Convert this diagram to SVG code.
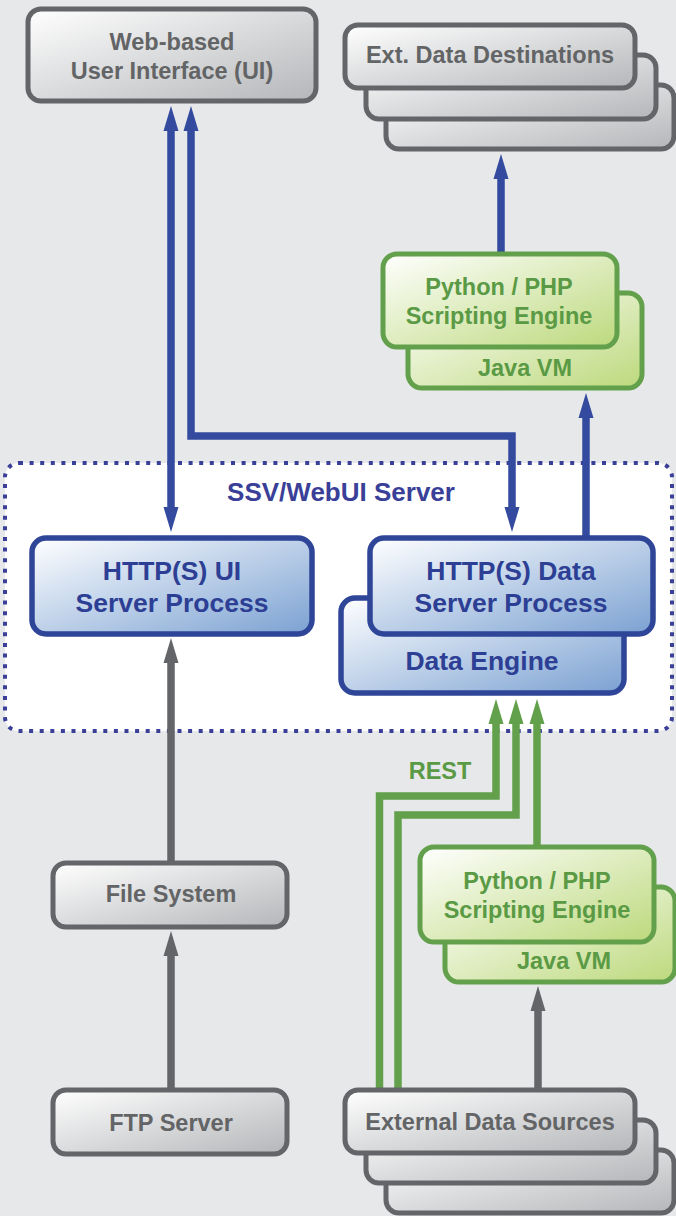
<svg xmlns="http://www.w3.org/2000/svg" width="676" height="1216" viewBox="0 0 676 1216">
<style>
text{font-family:"Liberation Sans",Arial,sans-serif;font-weight:bold;text-anchor:middle}
.g{fill:url(#gg);stroke:#636568;stroke-width:5}
.b{fill:url(#gb);stroke:#2e4598;stroke-width:5.5}
.n{fill:url(#gn);stroke:#62a04b;stroke-width:5}
.tg{fill:#626466;font-size:23.5px}
.tb{fill:#2d3f94;font-size:26.5px}
.tn{fill:#5a9a45;font-size:23.5px}
.cb{fill:none;stroke:#334a9e;stroke-width:7.5}
.cg{fill:none;stroke:#636568;stroke-width:7.5}
.cn{fill:none;stroke:#62a04b;stroke-width:7.5}
</style>
<defs>
<linearGradient id="gg" x1="0" y1="0" x2="1" y2="1"><stop offset="0" stop-color="#ffffff"/><stop offset="1" stop-color="#b4b6b9"/></linearGradient>
<linearGradient id="gb" x1="0" y1="0" x2="1" y2="1"><stop offset="0" stop-color="#ffffff"/><stop offset="1" stop-color="#7ba1d2"/></linearGradient>
<linearGradient id="gn" x1="0" y1="0" x2="1" y2="1"><stop offset="0" stop-color="#ffffff"/><stop offset="1" stop-color="#bcd97c"/></linearGradient>
<marker id="ab" viewBox="0 -8 26 16" refX="1" refY="0" markerWidth="26" markerHeight="16" markerUnits="userSpaceOnUse" orient="auto-start-reverse"><path d="M0,-7.5 L25,0 L0,7.5z" fill="#334a9e"/></marker>
<marker id="ag" viewBox="0 -8 26 16" refX="1" refY="0" markerWidth="26" markerHeight="16" markerUnits="userSpaceOnUse" orient="auto-start-reverse"><path d="M0,-7.5 L25,0 L0,7.5z" fill="#636568"/></marker>
<marker id="an" viewBox="0 -8 26 16" refX="1" refY="0" markerWidth="26" markerHeight="16" markerUnits="userSpaceOnUse" orient="auto-start-reverse"><path d="M0,-7.5 L25,0 L0,7.5z" fill="#62a04b"/></marker>
</defs>
<rect width="676" height="1216" fill="#e7e8ea"/>
<g id="server-group">
<rect x="5" y="463" width="667" height="268" rx="14" fill="#ffffff" stroke="#3a3f98" stroke-width="4" stroke-dasharray="4 6.6"/>
<text x="341" y="501" style="fill:#3a3f98;font-size:26px">SSV/WebUI Server</text>
</g>
<g id="connectors">
<path class="cb" d="M171,130 V508" marker-start="url(#ab)" marker-end="url(#ab)"/>
<path class="cb" d="M191,130 V436 H512 V508" marker-start="url(#ab)" marker-end="url(#ab)"/>
<path class="cb" d="M586,538 V417" marker-end="url(#ab)"/>
<path class="cb" d="M501,254 V178" marker-end="url(#ab)"/>
<path class="cg" d="M171,863 V662" marker-end="url(#ag)"/>
<path class="cg" d="M171,1090 V955" marker-end="url(#ag)"/>
<path class="cg" d="M538,1090 V1010" marker-end="url(#ag)"/>
<path class="cn" d="M379.5,1090 V796 H496 V723" marker-end="url(#an)"/>
<path class="cn" d="M398,1090 V815 H516 V723" marker-end="url(#an)"/>
<path class="cn" d="M537,847 V723" marker-end="url(#an)"/>
<text x="440" y="779" style="fill:#5a9a45;font-size:23.5px">REST</text>
</g>
<g id="web-ui">
<rect class="g" x="28" y="9" width="288" height="92" rx="13"/>
<text class="tg" x="172" y="50">Web-based</text>
<text class="tg" x="172" y="79">User Interface (UI)</text>
</g>
<g id="ext-dest">
<rect class="g" x="386" y="85" width="288" height="64" rx="13"/>
<rect class="g" x="366" y="55" width="290" height="64" rx="13"/>
<rect class="g" x="345" y="25" width="290" height="63" rx="13"/>
<text class="tg" x="490" y="63">Ext. Data Destinations</text>
</g>
<g id="script-top">
<rect class="n" x="408" y="293" width="234" height="95" rx="14"/>
<rect class="n" x="383" y="254" width="234" height="93" rx="14"/>
<text class="tn" x="499" y="295">Python / PHP</text>
<text class="tn" x="499" y="324">Scripting Engine</text>
<text class="tn" x="525" y="376">Java VM</text>
</g>
<g id="ui-server">
<rect class="b" x="32" y="538" width="280" height="96" rx="14"/>
<text class="tb" x="172" y="580">HTTP(S) UI</text>
<text class="tb" x="172" y="612">Server Process</text>
</g>
<g id="data-server">
<rect class="b" x="341" y="598" width="283" height="95" rx="14"/>
<text class="tb" x="482" y="670">Data Engine</text>
<rect class="b" x="370" y="538" width="283" height="96" rx="14"/>
<text class="tb" x="511" y="580">HTTP(S) Data</text>
<text class="tb" x="511" y="612">Server Process</text>
</g>
<g id="script-bottom">
<rect class="n" x="445" y="887" width="230" height="95" rx="14"/>
<rect class="n" x="420" y="847" width="234" height="95" rx="14"/>
<text class="tn" x="537" y="889">Python / PHP</text>
<text class="tn" x="537" y="918">Scripting Engine</text>
<text class="tn" x="564" y="969">Java VM</text>
</g>
<g id="file-system">
<rect class="g" x="53" y="863" width="234" height="64" rx="13"/>
<text class="tg" x="171" y="902">File System</text>
</g>
<g id="ftp-server">
<rect class="g" x="53" y="1090" width="234" height="64" rx="13"/>
<text class="tg" x="171" y="1131">FTP Server</text>
</g>
<g id="ext-sources">
<rect class="g" x="386" y="1150" width="288" height="63" rx="13"/>
<rect class="g" x="366" y="1120" width="290" height="63" rx="13"/>
<rect class="g" x="345" y="1090" width="290" height="63" rx="13"/>
<text class="tg" x="490" y="1130">External Data Sources</text>
</g>
</svg>
